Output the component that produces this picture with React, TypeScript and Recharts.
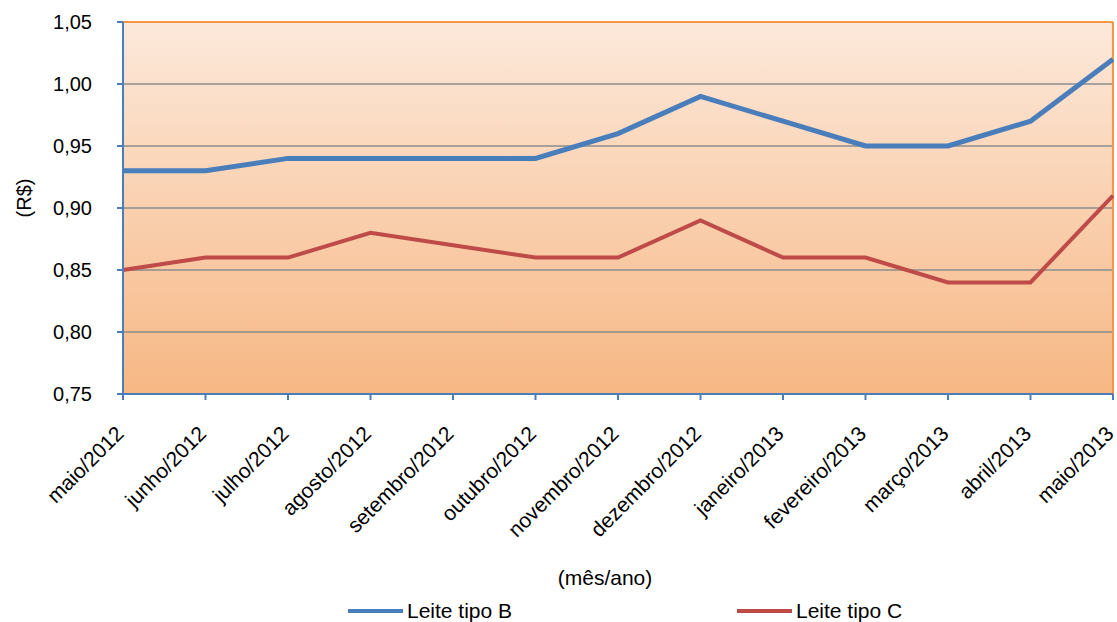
import React from 'react';
import {
  LineChart,
  Line,
  XAxis,
  YAxis,
  CartesianGrid,
  ReferenceLine,
  Legend,
} from 'recharts';

const months = [
  'maio/2012',
  'junho/2012',
  'julho/2012',
  'agosto/2012',
  'setembro/2012',
  'outubro/2012',
  'novembro/2012',
  'dezembro/2012',
  'janeiro/2013',
  'fevereiro/2013',
  'março/2013',
  'abril/2013',
  'maio/2013',
];
const leiteB = [0.93, 0.93, 0.94, 0.94, 0.94, 0.94, 0.96, 0.99, 0.97, 0.95, 0.95, 0.97, 1.02];
const leiteC = [0.85, 0.86, 0.86, 0.88, 0.87, 0.86, 0.86, 0.89, 0.86, 0.86, 0.84, 0.84, 0.91];
const yTicks = [0.75, 0.8, 0.85, 0.9, 0.95, 1.0, 1.05];

const data = months.map((m, i) => ({ month: m, b: leiteB[i], c: leiteC[i] }));

const FONT = '"Liberation Sans", Arial, sans-serif';
const BLUE = '#4a7ebb';
const RED = '#be4b48';
const ORANGE = '#f79646';

const fmt = (v: number) => v.toFixed(2).replace('.', ',');

const XTick = (props: any) => {
  const { x, y, payload } = props;
  const tx = x + 2;
  const ty = y + 33;
  return (
    <text
      x={tx}
      y={ty}
      textAnchor="end"
      transform={`rotate(-45, ${tx}, ${ty})`}
      fontSize={21}
      fontFamily={FONT}
      fill="#000"
    >
      {payload.value}
    </text>
  );
};

const LegendContent = () => (
  <div
    style={{
      display: 'flex',
      paddingLeft: 348,
      paddingTop: 7,
      fontFamily: FONT,
      fontSize: 21,
      lineHeight: '24px',
      color: '#000',
    }}
  >
    <div style={{ display: 'flex', alignItems: 'center', width: 389 }}>
      <span style={{ display: 'inline-block', width: 55, height: 4, background: BLUE, marginRight: 4 }} />
      Leite tipo B
    </div>
    <div style={{ display: 'flex', alignItems: 'center' }}>
      <span style={{ display: 'inline-block', width: 55, height: 4, background: RED, marginRight: 4 }} />
      Leite tipo C
    </div>
  </div>
);

export default function App() {
  return (
    <div style={{ position: 'absolute', left: 0, top: 0, background: '#fff' }}>
      <LineChart
        width={1117}
        height={622}
        data={data}
        margin={{ top: 22, right: 4, left: 0, bottom: 0 }}
      >
        <defs>
          <linearGradient id="bgGrad" x1="0" y1="0" x2="0" y2="1">
            <stop offset="0%" stopColor="#fce9db" />
            <stop offset="100%" stopColor="#f7b784" />
          </linearGradient>
        </defs>
        <CartesianGrid
          vertical={false}
          stroke="#8c8c8c"
          strokeWidth={1.5}
          fill="url(#bgGrad)"
          fillOpacity={1}
        />
        <XAxis
          dataKey="month"
          interval={0}
          height={198}
          tick={<XTick />}
          tickSize={6}
          axisLine={{ stroke: BLUE, strokeWidth: 2 }}
          tickLine={{ stroke: BLUE, strokeWidth: 2 }}
          label={{
            content: () => (
              <text
                x={605}
                y={577}
                textAnchor="middle"
                dominantBaseline="central"
                fontSize={21}
                fontFamily={FONT}
                fill="#000"
              >
                (mês/ano)
              </text>
            ),
          }}
        />
        <YAxis
          domain={[0.75, 1.05]}
          ticks={yTicks}
          width={123}
          tickFormatter={fmt}
          tickSize={6}
          tickMargin={25}
          tick={{ fontSize: 20, fontFamily: FONT, fill: '#000' }}
          axisLine={{ stroke: BLUE, strokeWidth: 2 }}
          tickLine={{ stroke: BLUE, strokeWidth: 2 }}
          label={{
            content: () => (
              <text
                x={24}
                y={198}
                transform="rotate(-90, 24, 198)"
                textAnchor="middle"
                dominantBaseline="central"
                fontSize={20}
                fontFamily={FONT}
                fill="#000"
              >
                (R$)
              </text>
            ),
          }}
        />
        <ReferenceLine y={1.05} stroke={ORANGE} strokeWidth={2} />
        <ReferenceLine x="maio/2013" stroke={ORANGE} strokeWidth={2} />
        <Line
          type="linear"
          dataKey="b"
          name="Leite tipo B"
          stroke={BLUE}
          strokeWidth={5}
          dot={false}
          isAnimationActive={false}
        />
        <Line
          type="linear"
          dataKey="c"
          name="Leite tipo C"
          stroke={RED}
          strokeWidth={4}
          dot={false}
          isAnimationActive={false}
        />
        <Legend verticalAlign="bottom" height={30} content={<LegendContent />} />
      </LineChart>
    </div>
  );
}
